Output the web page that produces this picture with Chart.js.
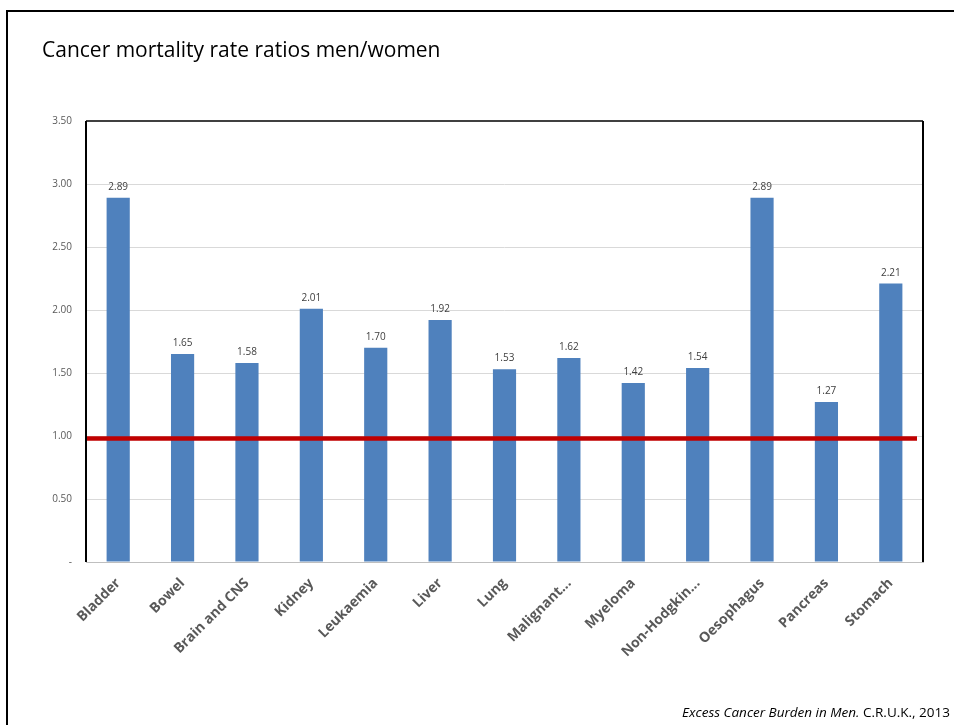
<!DOCTYPE html>
<html lang="en">
<head>
    <meta charset="UTF-8">
    <title>Cancer mortality rate ratios men/women</title>
    <script src="https://cdn.jsdelivr.net/npm/chart.js"></script>
    <style>
        html, body { margin: 0; background: #fff; overflow: hidden; }
        #slide { position: relative; width: 954px; height: 725px; overflow: hidden; background: #fff; }
        .edge { position: absolute; background: #000; }
        #edgeTop { left: 6px; top: 10px; width: 948px; height: 2px; }
        #edgeLeft { left: 6px; top: 10px; width: 2px; height: 715px; }
        #title { position: absolute; left: 42px; top: 35px; font-family: "Open Sans", sans-serif; font-size: 21px; color: #000; white-space: nowrap; }
        #source { position: absolute; right: 4px; top: 703px; font-family: "Open Sans", sans-serif; font-size: 13.5px; color: #000; white-space: nowrap; }
        #myChart { position: absolute; left: 0; top: 0; }
    </style>
</head>
<body>
<div id="slide">
    <div class="edge" id="edgeTop"></div>
    <div class="edge" id="edgeLeft"></div>
    <canvas id="myChart" width="954" height="725"></canvas>
    <div id="title">Cancer mortality rate ratios men/women</div>
    <div id="source"><i>Excess Cancer Burden in Men.</i> C.R.U.K., 2013</div>
</div>

<script>
    const cancerSites = ['Bladder', 'Bowel', 'Brain and CNS', 'Kidney', 'Leukaemia', 'Liver', 'Lung',
        'Malignant...', 'Myeloma', 'Non-Hodgkin...', 'Oesophagus', 'Pancreas', 'Stomach'];
    const rateRatios = [2.89, 1.65, 1.58, 2.01, 1.70, 1.92, 1.53, 1.62, 1.42, 1.54, 2.89, 1.27, 2.21];
    const yTicks = [0, 0.5, 1.0, 1.5, 2.0, 2.5, 3.0, 3.5];
    const parityLevel = 0.98;

    // value labels above each bar
    const barLabels = {
        id: 'barLabels',
        afterDatasetsDraw(chart) {
            const ctx = chart.ctx;
            const meta = chart.getDatasetMeta(0);
            ctx.save();
            ctx.font = '10px "Open Sans", sans-serif';
            ctx.fillStyle = '#404040';
            ctx.textAlign = 'center';
            ctx.textBaseline = 'alphabetic';
            meta.data.forEach((bar, i) => {
                ctx.fillText(rateRatios[i].toFixed(2), bar.x, bar.y - 8);
            });
            ctx.restore();
        }
    };

    // red reference line near 1.00 and the plot frame
    const frameAndLine = {
        id: 'frameAndLine',
        afterDraw(chart) {
            const ctx = chart.ctx;
            const a = chart.chartArea;
            const y = chart.scales.y.getPixelForValue(parityLevel);
            ctx.save();
            ctx.strokeStyle = '#C00000';
            ctx.lineWidth = 4.5;
            ctx.beginPath();
            ctx.moveTo(a.left + 1, y);
            ctx.lineTo(a.right - 6, y);
            ctx.stroke();

            ctx.lineWidth = 2;
            ctx.strokeStyle = '#404040';
            ctx.beginPath();
            ctx.moveTo(a.left, a.top);
            ctx.lineTo(a.right, a.top);
            ctx.stroke();
            ctx.strokeStyle = '#000';
            ctx.beginPath();
            ctx.moveTo(a.left, a.top);
            ctx.lineTo(a.left, a.bottom);
            ctx.moveTo(a.right, a.top);
            ctx.lineTo(a.right, a.bottom);
            ctx.stroke();
            ctx.restore();
        }
    };

    const ctx = document.getElementById('myChart').getContext('2d');
    new Chart(ctx, {
        type: 'bar',
        data: {
            labels: cancerSites,
            datasets: [{
                label: 'Rate ratio',
                data: rateRatios,
                backgroundColor: '#4F81BD',
                borderWidth: 0,
                barPercentage: 0.36,
                categoryPercentage: 1.0
            }]
        },
        options: {
            responsive: false,
            animation: false,
            layout: { padding: { left: 0, right: 31, top: 121, bottom: 0 } },
            plugins: {
                legend: { display: false },
                tooltip: { enabled: false }
            },
            scales: {
                x: {
                    grid: { display: false, drawTicks: false },
                    border: { color: '#BFBFBF', width: 1 },
                    ticks: {
                        maxRotation: 45,
                        minRotation: 45,
                        padding: 13,
                        color: '#595959',
                        font: { family: '"Open Sans", sans-serif', size: 14, weight: 'bold' }
                    },
                    afterFit(scale) { scale.height = 163; }
                },
                y: {
                    min: 0,
                    max: 3.5,
                    afterBuildTicks(scale) { scale.ticks = yTicks.map(v => ({ value: v })); },
                    grid: { color: '#D9D9D9', drawTicks: false },
                    border: { display: false },
                    ticks: {
                        padding: 14,
                        color: '#595959',
                        font: { family: '"Open Sans", sans-serif', size: 10 },
                        callback: v => v === 0 ? '-' : Number(v).toFixed(2)
                    },
                    afterFit(scale) { scale.width = 86; }
                }
            }
        },
        plugins: [barLabels, frameAndLine]
    });
</script>
</body>
</html>
